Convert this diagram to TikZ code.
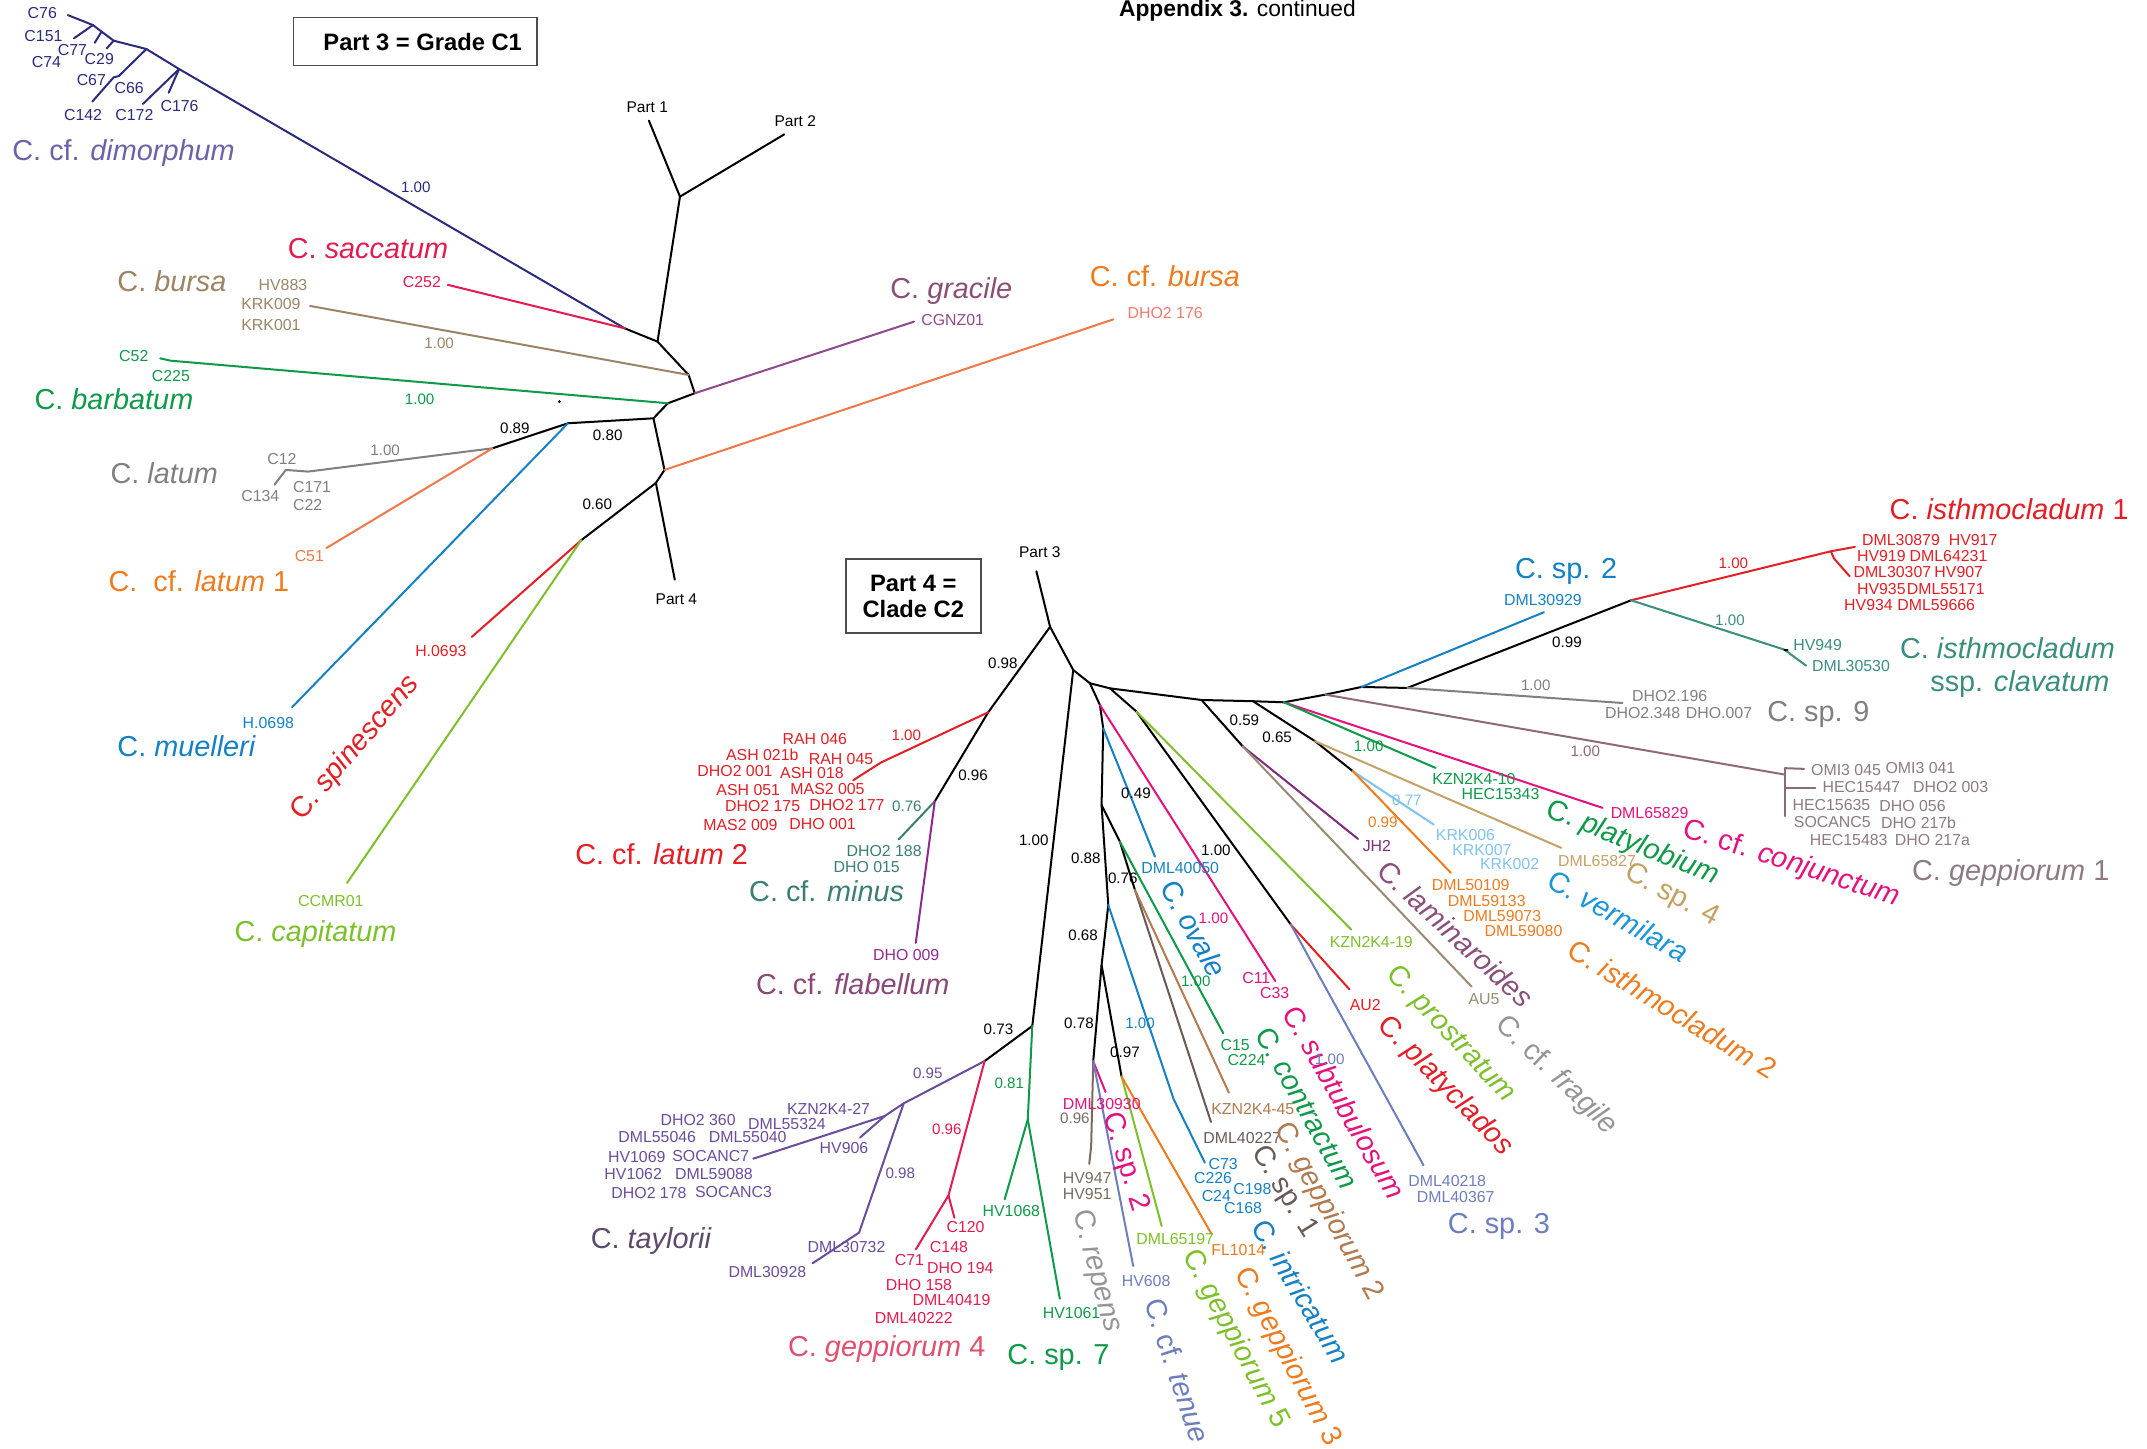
\documentclass[tikz,border=0pt]{standalone}
\usepackage{fontspec}
\setmainfont{Liberation Sans}
\usepackage{tikz}
\usepackage{xcolor}

\definecolor{cNavy}{HTML}{2B2C7C}
\definecolor{cDimLbl}{HTML}{6B63A8}
\definecolor{cCrim}{HTML}{E31B4F}
\definecolor{cTan}{HTML}{9C8466}
\definecolor{cGreen}{HTML}{0E9A48}
\definecolor{cGray}{HTML}{808080}
\definecolor{cSalmon}{HTML}{F07848}
\definecolor{cDHO}{HTML}{F07A6E}
\definecolor{cOrange}{HTML}{EE7B1E}
\definecolor{cBlue}{HTML}{1581C5}
\definecolor{cRed}{HTML}{E31E24}
\definecolor{cLime}{HTML}{7DC12A}
\definecolor{cGrac}{HTML}{8E4A8A}
\definecolor{cGracLbl}{HTML}{8C4F73}
\definecolor{cTeal}{HTML}{3B7F74}
\definecolor{cFlab}{HTML}{8E2A8E}
\definecolor{cFlabLbl}{HTML}{8A4877}
\definecolor{cTayl}{HTML}{6A4C9C}
\definecolor{cTaylLbl}{HTML}{5C4A6B}
\definecolor{cRep}{HTML}{7A6B5E}
\definecolor{cLtGray}{HTML}{959595}
\definecolor{cPink}{HTML}{E5127D}
\definecolor{cTenue}{HTML}{6D7EBF}
\definecolor{cSpA}{HTML}{6A5A57}
\definecolor{cGpB}{HTML}{B17A4F}
\definecolor{cLam}{HTML}{7E2B7E}
\definecolor{cLamLbl}{HTML}{8A4F7B}
\definecolor{cAU}{HTML}{9B8A73}
\definecolor{cLtBlue}{HTML}{7FC3EE}
\definecolor{cVerm}{HTML}{1B95D8}
\definecolor{cSpD}{HTML}{C4A165}
\definecolor{cGpA}{HTML}{8D6B72}
\definecolor{cGpALbl}{HTML}{8D7A82}
\definecolor{cClav}{HTML}{3A8E7E}
\definecolor{cGpDLbl}{HTML}{E0506E}

\tikzset{
  br/.style={line width=1.1pt, line cap=round, line join=round},
  tip/.style={inner sep=0pt, anchor=west, font=\fontsize{8.7}{10}\selectfont, text height=6.2pt, text depth=0pt},
  pp/.style={inner sep=0pt, font=\fontsize{8.3}{10}\selectfont, text height=6pt, text depth=0pt},
  spc/.style={inner sep=0pt, font=\fontsize{15.8}{18}\selectfont, text height=11.3pt, text depth=0pt},
  sph/.style={spc, anchor=west},
  partlbl/.style={inner sep=0pt, font=\fontsize{8.5}{10}\selectfont, text height=6.1pt, text depth=0pt},
  boxline/.style={draw=black!70, line width=0.8pt},
  boxtxt/.style={inner sep=0pt, align=center, font=\bfseries\fontsize{13}{14.6}\selectfont},
}

\begin{document}
\begin{tikzpicture}[x=0.75pt,y=0.75pt,yscale=-1,xscale=1]
\useasboundingbox (0,0) rectangle (1568,1058);

% Text Node
\node[anchor=base west, inner sep=0pt, font=\fontsize{12.5}{14}\selectfont] (title) at (817,12.2) {\textbf{Appendix 3.} continued};

%Shape: Rectangle [Part 3 box]
\draw[boxline] (214.3,12.7) rectangle (392.3,48);
\node[boxtxt] (lPart3box) at (308.7,30.4) {Part 3 = Grade C1};
%Shape: Rectangle [Part 4 box]
\draw[boxline] (618,408.2) rectangle (716.6,462.2);
\node[boxtxt] (lPart4box) at (667,435.5) {Part 4 =\\Clade C2};

%%%%%%%%%%%%%%%%%%%% Part 3 tree %%%%%%%%%%%%%%%%%%%%
\coordinate (p1) at (473.9,88.1);
\coordinate (p2) at (572.8,98.1);
\coordinate (n12) at (496.6,143.6);
\coordinate (nA) at (480.2,249.5);
\coordinate (nSD) at (456.3,239.8);
\coordinate (nB) at (502.9,273.8);
\coordinate (nC) at (507.4,287.2);
\coordinate (nD) at (487.8,294.5);
\coordinate (nE) at (477.2,305.5);
\coordinate (nF) at (414.8,309.1);
\coordinate (nLat) at (359.6,327.4);
\coordinate (nG) at (485.3,343.2);
\coordinate (nH) at (479,352.7);
\coordinate (n060) at (424.4,394.6);
\coordinate (p4) at (492.8,423.3);
% dimorphum clade
\coordinate (dD1) at (130.8,50.4);
\coordinate (dD2) at (106.9,35.8);
\coordinate (dD3) at (86.8,55.5);
\coordinate (dD3b) at (83,56.5);
\coordinate (dD4) at (83,29.7);
\coordinate (dTk) at (74.2,23.1);
\coordinate (dD5) at (67.9,18.3);
\coordinate (tC76) at (49.5,11);
\coordinate (tC151) at (54,28);
\coordinate (tC77) at (69.2,31.2);
\coordinate (tC29) at (78,35.3);
\coordinate (tC142) at (67.4,74.2);
\coordinate (tC172) at (104.4,75.9);
\coordinate (tC176) at (123.2,67.7);
% other tips
\coordinate (tSac) at (327,208);
\coordinate (tBur) at (226.4,223.4);
\coordinate (bA) at (124.5,263.4);
\coordinate (tBar) at (117,261.7);
\coordinate (latA) at (225,344.4);
\coordinate (latB) at (208.7,343.2);
\coordinate (latC) at (200.5,354);
\coordinate (tCfl) at (238.4,400.2);
\coordinate (tMue) at (213.3,516.5);
\coordinate (tSpi) at (344.6,465.1);
\coordinate (tCap) at (253.5,644.8);
\coordinate (tGra) at (667.6,234.9);
\coordinate (tCfb) at (813.2,233.2);

%Straight Lines [backbone]
\draw[br] (n12) -- (p1);
\draw[br] (n12) -- (p2);
\draw[br] (n12) -- (nA) -- (nB) -- (nC) -- (nD) -- (nE) -- (nF) -- (nLat);
\draw[br] (nA) -- (nSD);
\draw[br] (nE) -- (nG) -- (nH) -- (p4);
\draw[br] (nH) -- (n060);
%Straight Lines [coloured branches]
\draw[br, cNavy] (nSD) -- (dD1) -- (dD2) -- (dD4) -- (dTk) -- (dD5) -- (tC76);
\draw[br, cNavy] (dD5) -- (tC151);
\draw[br, cNavy] (dTk) -- (tC77);
\draw[br, cNavy] (dD4) -- (tC29);
\draw[br, cNavy] (dD2) -- (dD3) -- (dD3b) -- (tC142);
\draw[br, cNavy] (dD1) -- (tC172);
\draw[br, cNavy] (dD1) -- (tC176);
\draw[br, cCrim] (nSD) -- (tSac);
\draw[br, cTan] (nB) -- (tBur);
\draw[br, cGreen] (nD) -- (bA) -- (tBar);
\draw[br, cGray] (nLat) -- (latA) -- (latB) -- (latC);
\draw[br, cSalmon] (nLat) -- (tCfl);
\draw[br, cBlue] (nF) -- (tMue);
\draw[br, cRed] (n060) -- (tSpi);
\draw[br, cLime] (n060) -- (tCap);
\draw[br, cGrac] (nC) -- (tGra);
\draw[br, cSalmon] (nG) -- (tCfb);
\fill (408.5,293.3) circle (1.2);

% Text Node [tips]
\node[tip, cNavy] (lC76) at (20,9.7) {C76};
\node[tip, cNavy] (lC151) at (17.6,26.3) {C151};
\node[tip, cNavy] (lC77) at (42,36.5) {C77};
\node[tip, cNavy] (lC74) at (23,45) {C74};
\node[tip, cNavy] (lC29) at (61.6,43.3) {C29};
\node[tip, cNavy] (lC67) at (55.8,58) {C67};
\node[tip, cNavy] (lC66) at (83.5,63.8) {C66};
\node[tip, cNavy] (lC142) at (46.5,84) {C142};
\node[tip, cNavy] (lC172) at (84,84) {C172};
\node[tip, cNavy] (lC176) at (117,77.4) {C176};
\node[tip, cCrim] (lC252) at (294,205.7) {C252};
\node[tip, cTan] (lHV883) at (188.6,208) {HV883};
\node[tip, cTan] (lKRK009) at (176,222) {KRK009};
\node[tip, cTan] (lKRK001) at (176,237.3) {KRK001};
\node[tip, cGreen] (lC52) at (86.8,260) {C52};
\node[tip, cGreen] (lC225) at (110.7,274.6) {C225};
\node[tip, cGray] (lC12) at (195,335.4) {C12};
\node[tip, cGray] (lC134) at (176,362.4) {C134};
\node[tip, cGray] (lC171) at (213.8,355.6) {C171};
\node[tip, cGray] (lC22) at (213.8,368.5) {C22};
\node[tip, cSalmon] (lC51) at (215,405.8) {C51};
\node[tip, cBlue] (lH0698) at (177,528) {H.0698};
\node[tip, cRed] (lH0693) at (303,475.6) {H.0693};
\node[tip, cLime] (lCCMR01) at (217.5,657.7) {CCMR01};
\node[tip, cGrac] (lCGNZ01) at (672.6,233.7) {CGNZ01};
\node[tip, cDHO] (lDHO176) at (823.3,228.8) {DHO2 176};
% Text Node [species]
\node[sph, cDimLbl] (sDim) at (8.8,109.5) {C. cf. \textit{dimorphum}};
\node[sph, cCrim] (sSac) at (210,181.3) {C. \textit{saccatum}};
\node[sph, cTan] (sBur) at (85.5,205.7) {C. \textit{bursa}};
\node[sph, cGreen] (sBar) at (25,291.6) {C. \textit{barbatum}};
\node[sph, cGray] (sLat) at (80.5,345.6) {C. \textit{latum}};
\node[sph, cOrange] (sCfl) at (79,424.5) {C.\ \ cf. \textit{latum} 1};
\node[sph, cBlue] (sMue) at (85.5,545) {C. \textit{muelleri}};
\node[spc, cRed, rotate=49.4] (sSpi) at (258,545) {C. \textit{spinescens}};
\node[sph, cLime] (sCap) at (171,680.1) {C. \textit{capitatum}};
\node[sph, cGracLbl] (sGra) at (650,210.5) {C. \textit{gracile}};
\node[sph, cOrange] (sCfb) at (795.6,202) {C. cf. \textit{bursa}};
% Text Node [support values]
\node[pp, cNavy] (v1) at (303.7,136.8) {1.00};
\node[pp, cTan] (v2) at (320.7,250.7) {1.00};
\node[pp, cGreen] (v3) at (306.5,291.6) {1.00};
\node[pp] (v4) at (376,312.3) {0.89};
\node[pp, cGray] (v5) at (281.3,328.6) {1.00};
\node[pp] (v6) at (443.8,317.6) {0.80};
\node[pp] (v7) at (436.2,367.8) {0.60};
\node[partlbl] (lP1) at (472.7,77.9) {Part 1};
\node[partlbl] (lP2) at (580.8,88.1) {Part 2};
\node[partlbl] (lP4) at (494,437.4) {Part 4};

%%%%%%%%%%%%%%%%%%%% Part 4 tree %%%%%%%%%%%%%%%%%%%%
\coordinate (p3) at (756.9,417.2);
\coordinate (nP3) at (766.9,457.8);
\coordinate (nL2) at (721.7,520.2);
\coordinate (l2a) at (643.7,556.7);
\coordinate (tL2) at (623.1,569.8);
\coordinate (nM) at (682.7,585.2);
\coordinate (tMin) at (656.3,613.1);
\coordinate (tFla) at (668.8,688.6);
\coordinate (nQ) at (783.8,489.3);
\coordinate (nR) at (796,499);
\coordinate (nU) at (803.3,514.9);
\coordinate (nV) at (805.7,531.9);
\coordinate (n088) at (804.5,587.9);
\coordinate (nGc) at (817.9,614.7);
\coordinate (nB76) at (828.9,650);
\coordinate (n068) at (809.4,660.9);
\coordinate (nS) at (804.5,704.7);
\coordinate (n078) at (798.4,775);
\coordinate (n097) at (819.1,786.2);
\coordinate (nSx) at (810.6,502.7);
\coordinate (nP) at (830,519.7);
\coordinate (n100) at (942.7,675.2);
\coordinate (nT) at (877.5,511.2);
\coordinate (n059) at (907.5,545);
\coordinate (nW) at (915.1,512.1);
\coordinate (n065a) at (960.4,541.3);
\coordinate (n065) at (988,563.2);
\coordinate (nX) at (937.7,512.9);
\coordinate (nY) at (967.9,507.3);
\coordinate (nZ) at (994.3,501.7);
\coordinate (nAA) at (1027.8,502.4);
\coordinate (nI) at (1191.2,438.4);
\coordinate (nI1) at (1337.1,402.6);
\coordinate (nTc) at (1303.1,474.4);
\coordinate (nGp1) at (1303.5,565.7);
\coordinate (n073) at (753.9,749.3);
\coordinate (nTG) at (719.1,774.9);
\coordinate (nT1) at (660,805.8);
\coordinate (nT2) at (646.2,815);
\coordinate (nTD) at (627.4,900.2);
\coordinate (nG4) at (692.7,873);
\coordinate (nS7) at (750.6,817.5);
% tips
\coordinate (tSub) at (931.4,716.5);
\coordinate (tOva) at (843.5,625.6);
\coordinate (tCon) at (893.4,754.6);
\coordinate (tSpA) at (884.4,819.4);
\coordinate (tGpB) at (897.5,798);
\coordinate (intA) at (857.2,802.9);
\coordinate (tInt) at (879.9,849.1);
\coordinate (repA) at (796.9,837);
\coordinate (tRep) at (795.5,850);
\coordinate (tSpBb) at (807.4,797.5);
\coordinate (tTen) at (827.6,924.6);
\coordinate (tGpE) at (848.4,895.4);
\coordinate (tGpC) at (884.9,901.4);
\coordinate (tPro) at (986.8,678.9);
\coordinate (tPla) at (985.5,722.5);
\coordinate (tSpC) at (1039.6,851);
\coordinate (tLam) at (991.8,612.7);
\coordinate (tFra) at (1074.8,720.6);
\coordinate (tSpD) at (1140.2,619.2);
\coordinate (tVer) at (1047.1,602.2);
\coordinate (tIsB) at (1059.7,637.5);
\coordinate (tCnj) at (1170.4,590);
\coordinate (tPlb) at (1048.4,560.8);
\coordinate (tSpBa) at (1127.6,447.1);
\coordinate (tSpI) at (1184.9,513.4);
\coordinate (tIsA) at (1354.7,399.4);
\coordinate (isAb) at (1339.5,408);
\coordinate (tIsAb) at (1350.9,420.9);
\coordinate (tClv) at (1319,486.1);
\coordinate (tTay) at (550.1,846.2);
\coordinate (tHV906) at (628.1,830.8);
\coordinate (tD928) at (593.4,922.6);
\coordinate (tC71) at (668.9,912.4);
\coordinate (tC120) at (697,889.3);
\coordinate (tH68) at (733.7,875.9);
\coordinate (tH61) at (774,948.4);
\coordinate (gAt) at (1303.5,561);
\coordinate (gAb) at (1303.5,596);
\coordinate (gAe1) at (1317.5,561.5);
\coordinate (gAm) at (1303.5,575.4);
\coordinate (gAe2) at (1325.8,575.4);

%Straight Lines [backbone]
\draw[br] (nP3) -- (p3);
\draw[br] (nP3) -- (nL2) -- (nM);
\draw[br] (nP3) -- (nQ) -- (n073) -- (nTG);
\draw[br] (nQ) -- (nR);
\draw[br] (nR) -- (nU) -- (nV) -- (n088) -- (n068) -- (nS) -- (n078);
\draw[br] (nS) -- (n097);
\draw[br] (n088) -- (nGc) -- (nB76);
\draw[br] (nR) -- (nSx) -- (nP) -- (n100);
\draw[br] (nSx) -- (nT) -- (nW) -- (nX) -- (nY) -- (nZ) -- (nAA) -- (nI);
\draw[br] (nT) -- (n059);
\draw[br] (nW) -- (n065a) -- (n065);
%Straight Lines [coloured branches]
\draw[br, cRed] (nL2) -- (l2a) -- (tL2);
\draw[br, cTeal] (nM) -- (tMin);
\draw[br, cFlab] (nM) -- (tFla);
\draw[br, cPink] (nU) -- (tSub);
\draw[br, cBlue] (nV) -- (tOva);
\draw[br, cGreen] (nGc) -- (tCon);
\draw[br, cSpA] (nB76) -- (tSpA);
\draw[br, cGpB] (nB76) -- (tGpB);
\draw[br, cBlue] (n068) -- (intA) -- (tInt);
\draw[br, cRep] (n078) -- (repA) -- (tRep);
\draw[br, cPink] (n078) -- (tSpBb);
\draw[br, cTenue] (n078) -- (tTen);
\draw[br, cLime] (n097) -- (tGpE);
\draw[br, cOrange] (n097) -- (tGpC);
\draw[br, cLime] (nP) -- (tPro);
\draw[br, cRed] (n100) -- (tPla);
\draw[br, cTenue] (n100) -- (tSpC);
\draw[br, cLam] (n059) -- (tLam);
\draw[br, cAU] (n059) -- (tFra);
\draw[br, cSpD] (n065a) -- (tSpD);
\draw[br, cLtBlue] (n065) -- (tVer);
\draw[br, cOrange] (n065) -- (tIsB);
\draw[br, cPink] (nX) -- (tCnj);
\draw[br, cGreen] (nX) -- (tPlb);
\draw[br, cGpA] (nY) -- (nGp1);
\draw[br, cGpA] (gAt) -- (gAb);
\draw[br, cGpA] (gAt) -- (gAe1);
\draw[br, cGpA] (gAm) -- (gAe2);
\draw[br, cBlue] (nZ) -- (tSpBa);
\draw[br, cGray] (nAA) -- (tSpI);
\draw[br, cRed] (nI) -- (nI1) -- (tIsA);
\draw[br, cRed] (nI1) -- (isAb) -- (tIsAb);
\draw[br, cClav] (nI) -- (nTc) -- (tClv);
\draw[br] (nTc) -- ++(2.5,0);
\draw[br, cTayl] (nTG) -- (nT1) -- (nT2) -- (tTay);
\draw[br, cTayl] (nT2) -- (tHV906);
\draw[br, cTayl] (nT1) -- (nTD) -- (tD928);
\draw[br, cCrim] (nTG) -- (nG4) -- (tC71);
\draw[br, cCrim] (nG4) -- (tC120);
\draw[br, cGreen] (n073) -- (nS7) -- (tH68);
\draw[br, cGreen] (nS7) -- (tH61);

% Text Node [tips]
\node[tip, cRed] (lRAH046) at (571.3,539.6) {RAH 046};
\node[tip, cRed] (lASH021b) at (530,551) {ASH 021b};
\node[tip, cRed] (lRAH045) at (590.4,554) {RAH 045};
\node[tip, cRed] (lDHO2001) at (509.1,563.3) {DHO2 001};
\node[tip, cRed] (lASH018) at (569.5,564.5) {ASH 018};
\node[tip, cRed] (lASH051) at (523,576.6) {ASH 051};
\node[tip, cRed] (lMAS2005) at (577,576.1) {MAS2 005};
\node[tip, cRed] (lDHO2175) at (529.3,588.8) {DHO2 175};
\node[tip, cRed] (lDHO2177) at (590.9,587.6) {DHO2 177};
\node[tip, cRed] (lMAS2009) at (513.4,602.2) {MAS2 009};
\node[tip, cRed] (lDHO001) at (576.3,601.5) {DHO 001};
\node[tip, cTeal] (lDHO2188) at (618,621.7) {DHO2 188};
\node[tip, cTeal] (lDHO015) at (608.5,633.1) {DHO 015};
\node[tip, cFlab] (lDHO009) at (637.4,697.1) {DHO 009};
\node[tip, cBlue] (lDML30929) at (1098.2,438.4) {DML30929};
\node[tip, cRed] (lDML30879) at (1359.7,394.6) {DML30879};
\node[tip, cRed] (lHV917) at (1423,394.6) {HV917};
\node[tip, cRed] (lHV919) at (1356,406.2) {HV919};
\node[tip, cRed] (lDML64231) at (1394.4,406.2) {DML64231};
\node[tip, cRed] (lDML30307) at (1353.4,417.9) {DML30307};
\node[tip, cRed] (lHV907) at (1412.5,417.9) {HV907};
\node[tip, cRed] (lHV935) at (1356,430.1) {HV935};
\node[tip, cRed] (lDML55171) at (1392.4,430.1) {DML55171};
\node[tip, cRed] (lHV934) at (1346.6,441.5) {HV934};
\node[tip, cRed] (lDML59666) at (1385.4,441.5) {DML59666};
\node[tip, cClav] (lHV949) at (1309.4,470.8) {HV949};
\node[tip, cClav] (lDML30530) at (1323.2,486.1) {DML30530};
\node[tip, cGray] (lDHO2196) at (1191.7,508) {DHO2.196};
\node[tip, cGray] (lDHO2348) at (1172,520.6) {DHO2.348};
\node[tip, cGray] (lDHO007) at (1231,520.6) {DHO.007};
\node[tip, cGpALbl] (lOMI3045) at (1322.5,562) {OMI3 045};
\node[tip, cGpALbl] (lOMI3041) at (1376.8,560.8) {OMI3 041};
\node[tip, cGpALbl] (lHEC15447) at (1330.8,574.7) {HEC15447};
\node[tip, cGpALbl] (lDHO2003) at (1396.9,574.7) {DHO2 003};
\node[tip, cGpALbl] (lHEC15635) at (1308.9,587.6) {HEC15635};
\node[tip, cGpALbl] (lDHO056) at (1372.3,588.3) {DHO 056};
\node[tip, cGpALbl] (lSOCANC5) at (1309.9,600.5) {SOCANC5};
\node[tip, cGpALbl] (lDHO217b) at (1373.5,601) {DHO 217b};
\node[tip, cGpALbl] (lHEC15483) at (1321.5,613.1) {HEC15483};
\node[tip, cGpALbl] (lDHO217a) at (1383.6,613.6) {DHO 217a};
\node[tip, cPink] (lDML65829) at (1176.1,593.7) {DML65829};
\node[tip, cGreen] (lKZN10) at (1045.9,568.6) {KZN2K4-10};
\node[tip, cGreen] (lHEC15343) at (1067.2,579.5) {HEC15343};
\node[tip, cSpD] (lDML65827) at (1137.7,629) {DML65827};
\node[tip, cLtBlue] (lKRK006) at (1048.4,609.5) {KRK006};
\node[tip, cLtBlue] (lKRK007) at (1060.4,620.5) {KRK007};
\node[tip, cLtBlue] (lKRK002) at (1080.6,630.7) {KRK002};
\node[tip, cOrange] (lDML50109) at (1045.4,646.5) {DML50109};
\node[tip, cOrange] (lDML59133) at (1057.2,657.7) {DML59133};
\node[tip, cOrange] (lDML59073) at (1068.5,669.1) {DML59073};
\node[tip, cOrange] (lDML59080) at (1084,680.1) {DML59080};
\node[tip, cLam] (lJH2) at (995,617.5) {JH2};
\node[tip, cLime] (lKZN19) at (970.9,688.1) {KZN2K4-19};
\node[tip, cBlue] (lDML40050) at (833.3,633.8) {DML40050};
\node[tip, cAU] (lAU5) at (1072.3,729.4) {AU5};
\node[tip, cRed] (lAU2) at (985.5,733.5) {AU2};
\node[tip, cPink] (lC11) at (907,714) {C11};
\node[tip, cPink] (lC33) at (920,725) {C33};
\node[tip, cGreen] (lC15) at (891.2,762.7) {C15};
\node[tip, cGreen] (lC224) at (896.2,774.1) {C224};
\node[tip, cGpB] (lKZN45) at (884.4,809.7) {KZN2K4-45};
\node[tip, cSpA] (lDML40227) at (878.6,830.9) {DML40227};
\node[tip, cBlue] (lC73) at (882.4,850.3) {C73};
\node[tip, cBlue] (lC226) at (871.8,860) {C226};
\node[tip, cBlue] (lC24) at (877.4,873) {C24};
\node[tip, cBlue] (lC198) at (900.5,868.1) {C198};
\node[tip, cBlue] (lC168) at (893.7,882) {C168};
\node[tip, cTenue] (lDML40218) at (1028.3,862.5) {DML40218};
\node[tip, cTenue] (lDML40367) at (1034.5,874) {DML40367};
\node[tip, cLime] (lDML65197) at (829.6,904.6) {DML65197};
\node[tip, cOrange] (lFL1014) at (884.4,912.9) {FL1014};
\node[tip, cTenue] (lHV608) at (819,935.5) {HV608};
\node[tip, cRep] (lHV947) at (776,860) {HV947};
\node[tip, cRep] (lHV951) at (776,872.2) {HV951};
\node[tip, cPink] (lDML30930) at (776,805.8) {DML30930};
\node[tip, cGreen] (lHV1068) at (717.4,884.4) {HV1068};
\node[tip, cGreen] (lHV1061) at (761.4,958.6) {HV1061};
\node[tip, cTayl] (lKZN27) at (574.5,809.7) {KZN2K4-27};
\node[tip, cTayl] (lDHO2360) at (482.2,818) {DHO2 360};
\node[tip, cTayl] (lDML55324) at (546.1,820.4) {DML55324};
\node[tip, cTayl] (lDML55046) at (451.3,830.1) {DML55046};
\node[tip, cTayl] (lDML55040) at (517.4,830.1) {DML55040};
\node[tip, cTayl] (lHV906) at (598.4,838.2) {HV906};
\node[tip, cTayl] (lHV1069) at (443.8,844.7) {HV1069};
\node[tip, cTayl] (lSOCANC7) at (490.8,843.8) {SOCANC7};
\node[tip, cTayl] (lHV1062) at (441.2,857.6) {HV1062};
\node[tip, cTayl] (lDML59088) at (492.8,857.6) {DML59088};
\node[tip, cTayl] (lDHO2178) at (446.3,871.5) {DHO2 178};
\node[tip, cTayl] (lSOCANC3) at (507.4,870.5) {SOCANC3};
\node[tip, cTayl] (lDML30732) at (589.6,910.4) {DML30732};
\node[tip, cTayl] (lDML30928) at (531.8,929) {DML30928};
\node[tip, cCrim] (lC120) at (691,895.8) {C120};
\node[tip, cCrim] (lC148) at (678.9,910.4) {C148};
\node[tip, cCrim] (lC71) at (653.3,920.2) {C71};
\node[tip, cCrim] (lDHO194) at (676.9,925.8) {DHO 194};
\node[tip, cCrim] (lDHO158) at (646.7,938) {DHO 158};
\node[tip, cCrim] (lDML40419) at (666.3,949.4) {DML40419};
\node[tip, cCrim] (lDML40222) at (638.7,962.3) {DML40222};

% Text Node [species]
\node[sph, cRed] (sL2) at (419.9,624.1) {C. cf. \textit{latum} 2};
\node[sph, cTeal] (sMin) at (546.9,650.9) {C. cf. \textit{minus}};
\node[sph, cFlabLbl] (sFla) at (551.9,718.9) {C. cf. \textit{flabellum}};
\node[sph, cTaylLbl] (sTay) at (431.2,903.9) {C. \textit{taylorii}};
\node[sph, cGpDLbl] (sGpD) at (575.3,983) {C. \textit{geppiorum} 4};
\node[sph, cGreen] (sSpG) at (735.5,989) {C. sp. 7};
\node[sph, cTenue] (sSpC) at (1057.2,893) {C. sp. 3};
\node[sph, cBlue] (sSpBa) at (1106.2,414.8) {C. sp. 2};
\node[sph, cRed] (sIsA) at (1379.8,371.7) {C. \textit{isthmocladum} 1};
\node[sph, cClav] (sClv1) at (1387.4,473.2) {C. \textit{isthmocladum}};
\node[sph, cClav] (sClv2) at (1409.5,497.5) {ssp. \textit{clavatum}};
\node[sph, cGray] (sSpI) at (1290.5,519.4) {C. sp. 9};
\node[sph, cGpALbl] (sGpA) at (1396.2,635.5) {C. \textit{geppiorum} 1};
\node[spc, cBlue, rotate=-61] (sOva) at (872,678) {C. \textit{ovale}};
\node[spc, cPink, rotate=-60.3] (sSub) at (981.8,805.3) {C. \textit{subtubulosum}};
\node[spc, cGreen, rotate=-60.8] (sCon) at (954.7,809) {C. \textit{contractum}};
\node[spc, cGpB, rotate=-61.3] (sGpB) at (972,884) {C. \textit{geppiorum} 2};
\node[spc, cSpA, rotate=-58] (sSpA) at (940,869) {C. sp. 1};
\node[spc, cBlue, rotate=-59] (sInt) at (950,943) {C. \textit{intricatum}};
\node[spc, cOrange, rotate=-62] (sGpC) at (942,990) {C. \textit{geppiorum} 3};
\node[spc, cLime, rotate=-62] (sGpE) at (904,977) {C. \textit{geppiorum} 5};
\node[spc, cTenue, rotate=-72] (sTen) at (860,1001) {C. cf. \textit{tenue}};
\node[spc, cLtGray, rotate=-75] (sRep) at (803,928) {C. \textit{repens}};
\node[spc, cPink, rotate=-73] (sSpBb) at (824,848) {C. sp. 2};
\node[spc, cRed, rotate=-46] (sPla) at (1057,792) {C. \textit{platyclados}};
\node[spc, cLime, rotate=-47] (sPro) at (1061,754) {C. \textit{prostratum}};
\node[spc, cLtGray, rotate=-44] (sFra) at (1138,784) {C. cf. \textit{fragile}};
\node[spc, cLamLbl, rotate=-43] (sLam) at (1063,682) {C. \textit{laminaroides}};
\node[spc, cOrange, rotate=-31.5] (sIsB) at (1221.5,737) {C. \textit{isthmocladum} 2};
\node[spc, cVerm, rotate=-29.6] (sVer) at (1182,669) {C. \textit{vermilara}};
\node[spc, cSpD, rotate=-28] (sSpD) at (1222,652) {C. sp. 4};
\node[spc, cGreen, rotate=-22] (sPlb) at (1193,614) {C. \textit{platylobium}};
\node[spc, cPink, rotate=-18] (sCnj) at (1309,629) {C. cf. \textit{conjunctum}};

% Text Node [support values]
\node[partlbl] (lP3) at (759.4,403.3) {Part 3};
\node[pp] (w1) at (732.4,484.1) {0.98};
\node[pp, cRed] (w2) at (661.9,536.5) {1.00};
\node[pp] (w3) at (710.6,565.7) {0.96};
\node[pp, cTeal] (w4) at (662.3,588.8) {0.76};
\node[pp] (w5) at (755,613.6) {1.00};
\node[pp] (w6) at (729.2,751.3) {0.73};
\node[pp, cTayl] (w7) at (677.6,783.9) {0.95};
\node[pp, cTayl] (w8) at (657.5,856.4) {0.98};
\node[pp, cCrim] (w9) at (691.5,824.3) {0.96};
\node[pp, cGreen] (w10) at (737.1,790.7) {0.81};
\node[pp] (w11) at (1144.4,469) {0.99};
\node[pp, cGray] (w12) at (1121.6,500) {1.00};
\node[pp, cGpA] (w13) at (1157.8,548.6) {1.00};
\node[pp, cRed] (w14) at (1265.9,411.1) {1.00};
\node[pp, cClav] (w15) at (1263.4,452.5) {1.00};
\node[pp] (w16) at (908.8,526) {0.59};
\node[pp] (w17) at (932.7,538.2) {0.65};
\node[pp, cGreen] (w18) at (999.6,545) {1.00};
\node[pp, cLtBlue] (w19) at (1027.5,584.4) {0.77};
\node[pp, cOrange] (w20) at (1009.9,600.5) {0.99};
\node[pp] (w21) at (888,620.5) {1.00};
\node[pp, cPink] (w22) at (886.2,670.3) {1.00};
\node[pp] (w23) at (829.6,579.5) {0.49};
\node[pp] (w24) at (793,626.5) {0.88};
\node[pp] (w25) at (820,641.1) {0.76};
\node[pp] (w26) at (791,682.5) {0.68};
\node[pp] (w27) at (788,747.4) {0.78};
\node[pp] (w28) at (821.6,768.3) {0.97};
\node[pp, cBlue] (w29) at (832.6,747.4) {1.00};
\node[pp, cGreen] (w30) at (873.3,716.5) {1.00};
\node[pp, cTenue] (w31) at (971.1,773.2) {1.00};
\node[pp, cRep] (w32) at (785,816.2) {0.96};

\end{tikzpicture}
\end{document}
